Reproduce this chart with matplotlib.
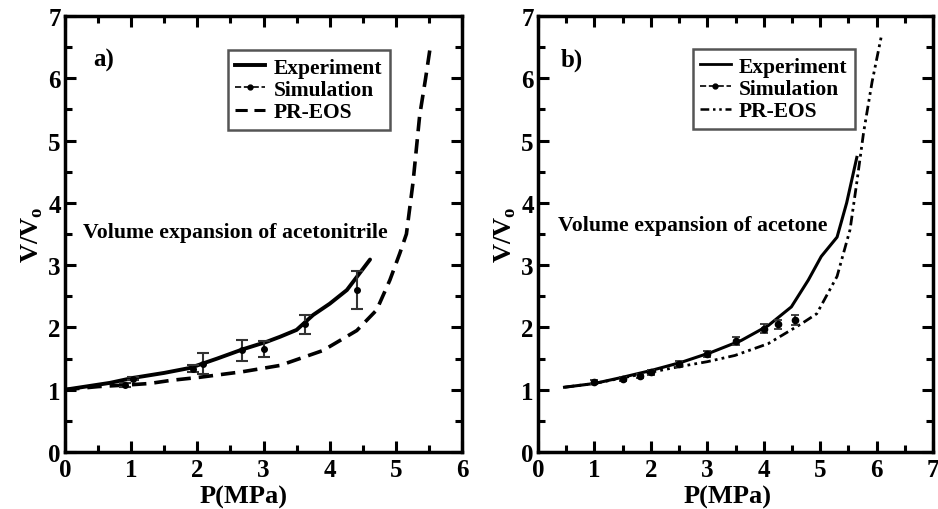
import matplotlib
matplotlib.use("Agg")
import matplotlib.pyplot as plt
from matplotlib.lines import Line2D
from matplotlib.ticker import MultipleLocator

plt.rcParams['font.family'] = ['Liberation Serif', 'DejaVu Serif']
plt.rcParams['font.weight'] = 'bold'
plt.rcParams['mathtext.fontset'] = 'custom'
plt.rcParams['mathtext.rm'] = 'Liberation Serif:bold'
plt.rcParams['mathtext.bf'] = 'Liberation Serif:bold'

# ---------- Panel a) acetonitrile ----------
a_exp_p = [0.0, 0.68, 1.03, 1.5, 1.89, 2.3, 2.69, 3.05, 3.25, 3.5, 3.75, 4.0, 4.26, 4.61]
a_exp_v = [1.0, 1.11, 1.19, 1.27, 1.35, 1.5, 1.65, 1.77, 1.85, 1.96, 2.2, 2.38, 2.6, 3.09]

a_eos_p = [0.0, 0.5, 1.0, 1.28, 1.6, 2.04, 2.69, 3.25, 3.9, 4.41, 4.71, 4.91, 5.06, 5.16, 5.26, 5.36, 5.45, 5.52]
a_eos_v = [1.0, 1.05, 1.08, 1.1, 1.15, 1.2, 1.29, 1.39, 1.63, 1.95, 2.28, 2.76, 3.19, 3.5, 4.33, 5.4, 6.0, 6.5]

a_sim_p = [0.91, 1.03, 1.94, 2.09, 2.67, 3.0, 3.63, 4.41]
a_sim_v = [1.07, 1.18, 1.34, 1.42, 1.63, 1.66, 2.05, 2.6]
a_sim_e = [0.03, 0.03, 0.05, 0.17, 0.17, 0.13, 0.15, 0.3]

# ---------- Panel b) acetone ----------
b_exp_p = [0.47, 1.0, 1.5, 2.01, 2.54, 3.07, 3.6, 4.08, 4.49, 4.79, 5.02, 5.3, 5.47, 5.65]
b_exp_v = [1.04, 1.1, 1.2, 1.31, 1.44, 1.6, 1.79, 2.03, 2.33, 2.76, 3.14, 3.45, 4.0, 4.73]

b_eos_p = [0.47, 1.0, 1.5, 2.0, 2.5, 3.0, 3.49, 4.08, 4.67, 4.94, 5.3, 5.53, 5.65, 5.77, 5.92, 6.09]
b_eos_v = [1.04, 1.1, 1.19, 1.28, 1.37, 1.45, 1.55, 1.74, 2.06, 2.22, 2.82, 3.57, 4.33, 5.13, 5.94, 6.7]

b_sim_p = [1.0, 1.5, 1.8, 2.0, 2.5, 3.0, 3.5, 4.0, 4.25, 4.55]
b_sim_v = [1.12, 1.17, 1.22, 1.28, 1.41, 1.57, 1.78, 1.98, 2.05, 2.12]
b_sim_e = [0.03, 0.03, 0.03, 0.04, 0.05, 0.05, 0.06, 0.07, 0.07, 0.08]

legend_labels = ['Experiment', 'Simulation', 'PR-EOS']

fig = plt.figure(figsize=(9.38, 5.10), dpi=100)
axA = fig.add_axes([65/938, 57/510, 397/938, 436/510])
axB = fig.add_axes([538/938, 57/510, 395/938, 436/510])

def style(ax, xmax, xlab_pos):
    ax.set_xlim(0, xmax)
    ax.set_ylim(0, 7)
    ax.xaxis.set_major_locator(MultipleLocator(1))
    ax.xaxis.set_minor_locator(MultipleLocator(0.5))
    ax.yaxis.set_major_locator(MultipleLocator(1))
    ax.yaxis.set_minor_locator(MultipleLocator(0.5))
    ax.tick_params(which='both', direction='in', top=True, right=True, width=2.2)
    ax.tick_params(which='major', length=8, labelsize=18)
    ax.tick_params(axis='x', which='major', pad=4)
    ax.tick_params(axis='y', which='major', pad=3)
    ax.tick_params(which='minor', length=5)
    for lab in ax.get_xticklabels() + ax.get_yticklabels():
        lab.set_fontweight('bold')
    for s in ax.spines.values():
        s.set_linewidth(2.5)
    ax.set_xlabel('P(MPa)', fontsize=19, fontweight='bold', labelpad=-2)
    ax.xaxis.set_label_coords(xlab_pos, -0.075)
    ax.set_ylabel(r'V/V$_\mathbf{o}$', fontsize=19, fontweight='bold', labelpad=2)

style(axA, 6, 0.45)
style(axB, 7, 0.48)

# panel a
axA.plot(a_exp_p, a_exp_v, color='black', lw=2.8, solid_capstyle='round')
axA.plot(a_eos_p, a_eos_v, color='black', lw=2.6, ls=(0, (4, 2.2)))
axA.errorbar(a_sim_p, a_sim_v, yerr=a_sim_e, fmt='o', color='black', ms=4,
             ecolor='#333333', elinewidth=1.5, capsize=4, capthick=1.5)
axA.text(0.42, 6.3, 'a)', fontsize=18, fontweight='bold', va='center')
axA.text(0.27, 3.53, 'Volume expansion of acetonitrile', fontsize=15.7,
         fontweight='bold', va='center')

hA = [Line2D([], [], color='black', lw=2.8),
      Line2D([], [], color='black', lw=1.2, ls='--', marker='o', ms=3.5),
      Line2D([], [], color='black', lw=2.2, ls=(0, (4, 2.2)))]
legA = axA.legend(hA, legend_labels, loc='upper right',
                  bbox_to_anchor=(0.819, 0.922), borderaxespad=0,
                  fancybox=False, framealpha=1, edgecolor='#555555',
                  handlelength=1.4, handletextpad=0.4, labelspacing=0.1,
                  borderpad=0.35, prop={'weight': 'bold', 'size': 15.5})
legA.get_frame().set_linewidth(1.8)

# panel b
axB.plot(b_exp_p, b_exp_v, color='black', lw=2.2)
axB.plot(b_eos_p, b_eos_v, color='black', lw=2.0, ls=(0, (3.5, 1.5, 1, 1.5, 1, 1.5)))
axB.errorbar(b_sim_p, b_sim_v, yerr=b_sim_e, fmt='o', color='black', ms=4.5,
             ecolor='#333333', elinewidth=1.3, capsize=3, capthick=1.3)
axB.text(0.41, 6.3, 'b)', fontsize=18, fontweight='bold', va='center')
axB.text(0.35, 3.65, 'Volume expansion of acetone', fontsize=15.7,
         fontweight='bold', va='center')

hB = [Line2D([], [], color='black', lw=2.0),
      Line2D([], [], color='black', lw=1.2, ls='--', marker='o', ms=3.5),
      Line2D([], [], color='black', lw=1.8, ls=(0, (3.5, 1.5, 1, 1.5, 1, 1.5)))]
legB = axB.legend(hB, legend_labels, loc='upper right',
                  bbox_to_anchor=(0.803, 0.924), borderaxespad=0,
                  fancybox=False, framealpha=1, edgecolor='#555555',
                  handlelength=1.4, handletextpad=0.4, labelspacing=0.1,
                  borderpad=0.35, prop={'weight': 'bold', 'size': 15.5})
legB.get_frame().set_linewidth(1.8)

fig.savefig('out.png', dpi=100)
